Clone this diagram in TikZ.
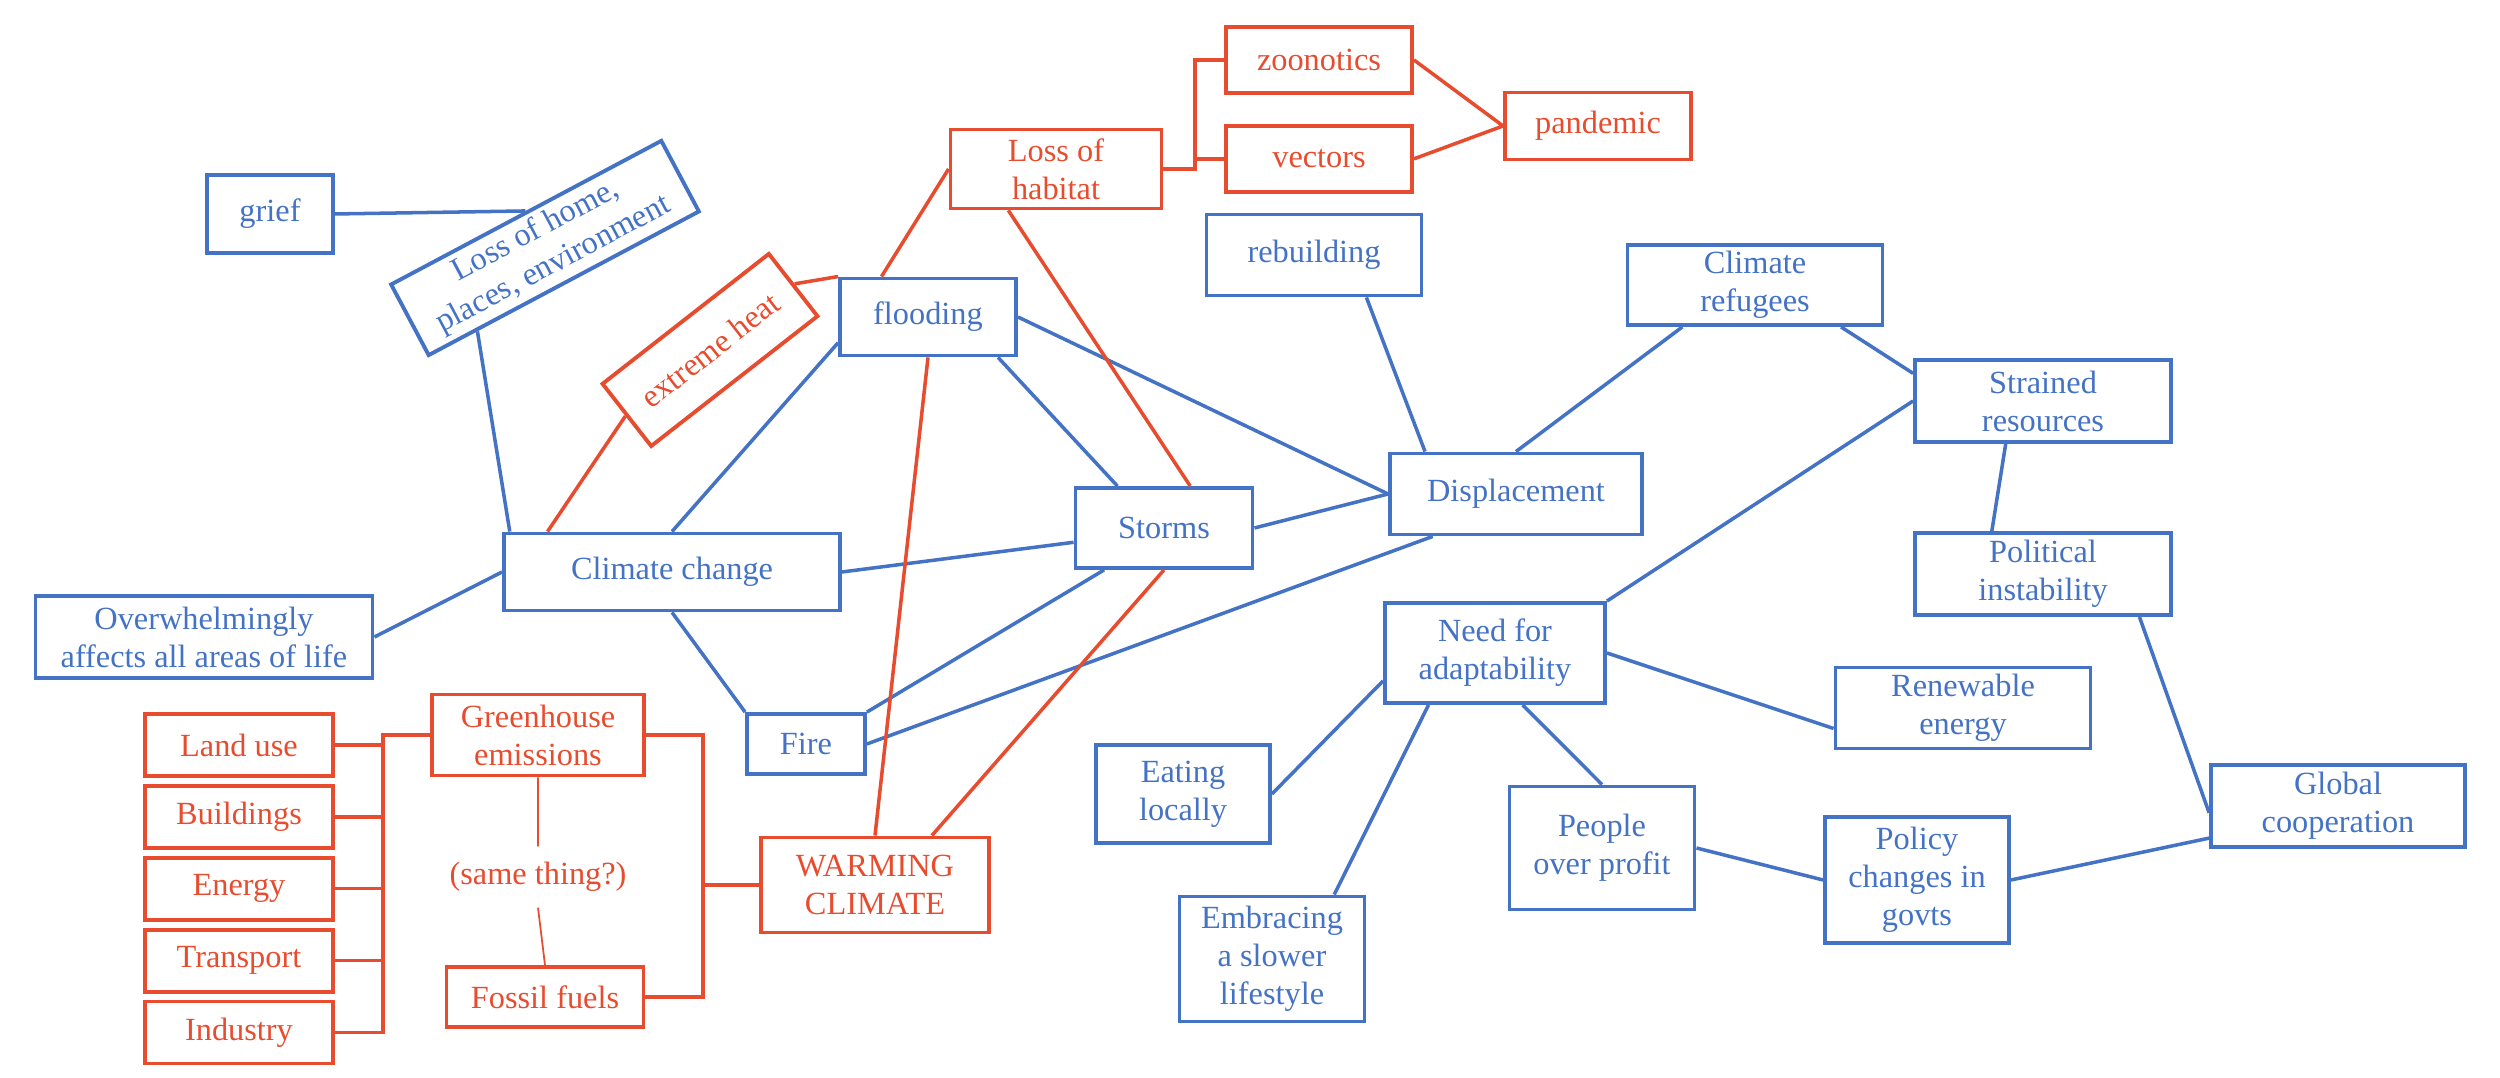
\documentclass[tikz,border=0pt]{standalone}
\usepackage{fontspec}
\setmainfont{Liberation Serif}
\usetikzlibrary{positioning}
\definecolor{cmBlue}{RGB}{68,114,196}
\definecolor{cmRed}{RGB}{232,76,47}
\tikzstyle{BlueBox} = [draw=cmBlue, text=cmBlue, line width=1.1pt, align=center, inner sep=1pt, minimum height=0.8cm, font=\fontsize{9.2}{10.8}\selectfont]
\tikzstyle{RedBox} = [BlueBox, draw=cmRed, text=cmRed]
\tikzstyle{SourceBox} = [RedBox, minimum width=1.88cm, minimum height=0.62cm]
\tikzstyle{BlueLink} = [cmBlue, line width=1pt]
\tikzstyle{RedLink} = [cmRed, line width=1pt]

\begin{document}
\begin{tikzpicture}[node distance = 0.06cm]
  \useasboundingbox (0,0) rectangle (25,10.78);

    % consequences (blue)
    \node[BlueBox, minimum width=1.26cm, minimum height=0.78cm] (grief) at (2.70,8.64) {grief};
    \node[BlueBox, minimum width=3.06cm, rotate=28] (home) at (5.45,8.30) {Loss of home,\\places, environment};
    \node[BlueBox, minimum width=1.76cm, minimum height=0.77cm] (flood) at (9.28,7.61) {flooding};
    \node[BlueBox, minimum width=3.36cm, minimum height=0.77cm] (cc) at (6.72,5.06) {Climate change};
    \node[BlueBox, minimum width=3.37cm, minimum height=0.82cm] (over) at (2.04,4.41) {Overwhelmingly\\affects all areas of life};
    \node[BlueBox, minimum width=1.77cm] (storms) at (11.64,5.50) {Storms};
    \node[BlueBox, minimum width=1.18cm, minimum height=0.60cm] (fire) at (8.06,3.34) {Fire};
    \node[BlueBox, minimum width=2.52cm, minimum height=0.81cm] (disp) at (15.16,5.84) {Displacement};
    \node[BlueBox, minimum width=2.15cm, minimum height=0.81cm] (rebuild) at (13.14,8.23) {rebuilding};
    \node[BlueBox, minimum width=2.55cm] (refugees) at (17.55,7.93) {Climate\\refugees};
    \node[BlueBox, minimum width=2.56cm, minimum height=0.82cm] (strained) at (20.43,6.77) {Strained\\resources};
    \node[BlueBox, minimum width=2.56cm, minimum height=0.82cm] (political) at (20.43,5.04) {Political\\instability};
    \node[BlueBox, minimum width=2.20cm, minimum height=1.00cm] (need) at (14.95,4.25) {Need for\\adaptability};
    \node[BlueBox, minimum width=2.55cm, minimum height=0.81cm] (renew) at (19.63,3.70) {Renewable\\energy};
    \node[BlueBox, minimum width=1.74cm, minimum height=0.98cm] (eating) at (11.83,2.84) {Eating\\locally};
    \node[BlueBox, minimum width=1.85cm, minimum height=1.23cm] (people) at (16.02,2.30) {People\\over profit};
    \node[BlueBox, minimum width=1.84cm, minimum height=1.26cm] (policy) at (19.17,1.98) {Policy\\changes in\\govts};
    \node[BlueBox, minimum width=2.54cm, minimum height=0.82cm] (global) at (23.38,2.72) {Global\\cooperation};
    \node[BlueBox, minimum width=1.85cm, minimum height=1.25cm] (embrace) at (12.72,1.19) {Embracing\\a slower\\lifestyle};

    % causes (red)
    \node[RedBox, minimum width=2.11cm, minimum height=0.79cm] (habitat) at (10.56,9.09) {Loss of\\habitat};
    \node[RedBox, minimum width=1.86cm, minimum height=0.66cm] (zoon) at (13.19,10.18) {zoonotics};
    \node[RedBox, minimum width=1.86cm, minimum height=0.66cm, below = 0.29cm of zoon] (vect) {vectors};
    \node[RedBox, minimum width=1.86cm, minimum height=0.67cm] (pand) at (15.98,9.52) {pandemic};
    \node[RedBox, minimum width=2.11cm, minimum height=0.79cm, rotate=38] (heat) at (7.10,7.28) {extreme heat};
    \node[RedBox, minimum width=2.12cm, minimum height=0.81cm] (ghg) at (5.38,3.43) {Greenhouse\\emissions};
    \node[RedBox, minimum width=1.97cm, minimum height=0.60cm] (fossil) at (5.45,0.81) {Fossil fuels};
    \node[RedBox, draw=none, inner sep=4pt, minimum height=0cm] (same) at (5.38,2.01) {(same thing?)};
    \node[RedBox, minimum width=2.28cm, minimum height=0.95cm] (warm) at (8.75,1.93) {WARMING\\CLIMATE};
    \node[SourceBox] (landuse) at (2.39,3.33) {Land use};
    \node[SourceBox, below = of landuse] (buildings) {Buildings};
    \node[SourceBox, below = of buildings] (energy) {Energy};
    \node[SourceBox, below = of energy] (transport) {Transport};
    \node[SourceBox, below = of transport] (industry) {Industry};

    \coordinate (lbus) at (3.83,0);
    \coordinate (rbus) at (7.03,0);
    \coordinate (hbus) at (11.95,0);

    \draw[BlueLink] (grief.east) -- (home.north);
    \draw[BlueLink] (home.203) -- (cc.166);
    \draw[BlueLink] (over.east) -- (cc.west);
    \draw[BlueLink] (cc.north) -- (flood.196);
    \draw[BlueLink] (cc.east) -- (storms.189);
    \draw[BlueLink] (cc.south) -- (fire.north west);
    \draw[BlueLink] (flood.330) -- (storms.138);
    \draw[BlueLink] (flood.east) -- (disp.west);
    \draw[BlueLink] (storms.east) -- (disp.west);
    \draw[BlueLink] (fire.north east) -- (storms.215);
    \draw[BlueLink] (fire.east) -- (disp.207);
    \draw[BlueLink] (rebuild.321) -- (disp.155);
    \draw[BlueLink] (refugees.210) -- (disp.north);
    \draw[BlueLink] (refugees.334) -- (strained.168);
    \draw[BlueLink] (strained.west) -- (need.north east);
    \draw[BlueLink] (strained.229) -- (political.140);
    \draw[BlueLink] (political.336) -- (global.183);
    \draw[BlueLink] (need.east) -- (renew.189);
    \draw[BlueLink] (need.194) -- (eating.east);
    \draw[BlueLink] (need.218) -- (embrace.46);
    \draw[BlueLink] (need.298) -- (people.north);
    \draw[BlueLink] (people.east) -- (policy.west);
    \draw[BlueLink] (policy.east) -- (global.194);

    \draw[RedLink] (heat.west) -- (cc.162);
    \draw[RedLink] (heat.east) -- (flood.north west);
    \draw[RedLink] (flood.139) -- (habitat.west);
    \draw[RedLink] (habitat.221) -- (storms.58);
    \draw[RedLink] (flood.south) -- (warm.north);
    \draw[RedLink] (storms.south) -- (warm.41);
    \draw[RedLink] (habitat.east) -- (hbus |- habitat.east) |- (zoon.west);
    \draw[RedLink] (hbus |- vect.west) -- (vect.west);
    \draw[RedLink] (zoon.east) -- (pand.west) -- (vect.east);
    \draw[RedLink] (ghg.west) -| (lbus |- industry.east) -- (industry.east);
    \foreach \src in {landuse, buildings, energy, transport}
      \draw[RedLink] (\src.east) -- (lbus |- \src.east);
    \draw[RedLink] (ghg.east) -| (rbus |- fossil.east) -- (fossil.east);
    \draw[RedLink] (warm.west) -- (rbus |- warm.west);
    \draw[cmRed, line width=0.5pt] (ghg.south) -- (same.north) (same.south) -- (fossil.north);
  \end{tikzpicture}
\end{document}
